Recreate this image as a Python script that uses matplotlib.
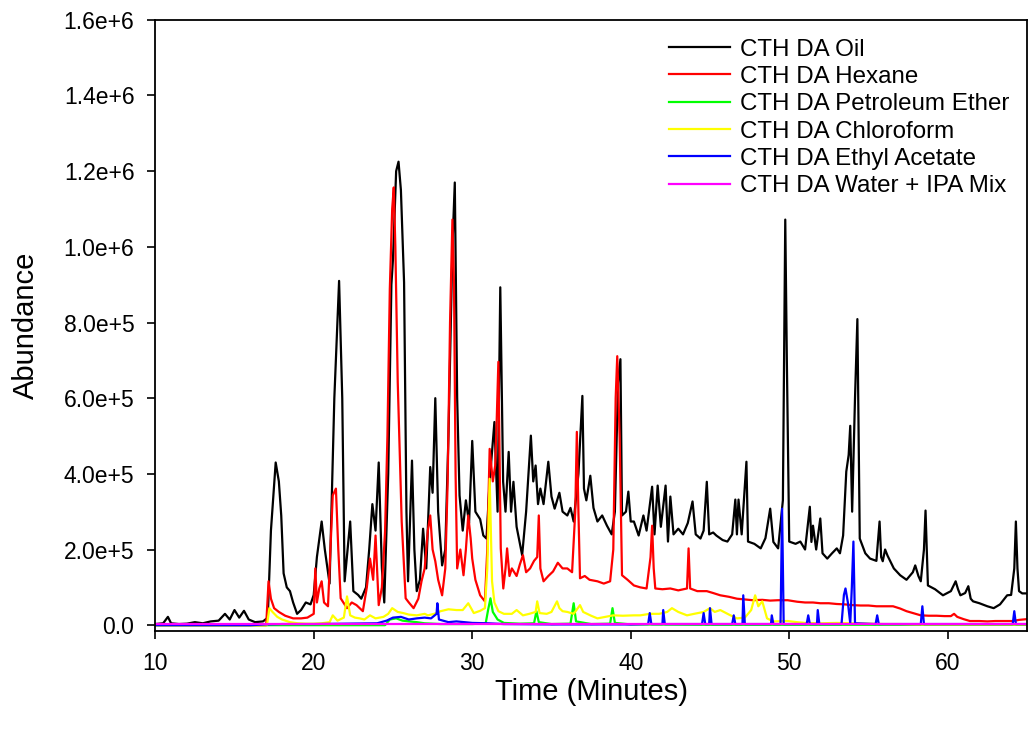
import matplotlib.pyplot as plt
import numpy as np

plt.rcParams['font.family'] = ['Liberation Sans', 'DejaVu Sans']

# abundance values are in thousands
oil_t = [10.0, 10.5, 10.8, 11.0, 11.5, 12.0, 12.5, 13.0, 13.5, 14.0, 14.4, 14.7, 15.0, 15.3, 15.6, 15.9, 16.3, 16.8,
         17.1, 17.3, 17.6, 17.8, 17.95, 18.1, 18.3, 18.5, 18.7, 18.95, 19.2, 19.5, 19.8, 20.0, 20.2, 20.5, 20.7, 21.0,
         21.3, 21.6, 21.8, 21.95, 22.3, 22.5, 22.8, 23.0, 23.3, 23.5, 23.7, 23.9, 24.1, 24.3, 24.45, 24.7, 24.9, 25.0,
         25.2, 25.35, 25.5, 25.7, 25.85, 25.95, 26.2, 26.35, 26.5, 26.7, 26.9, 27.1, 27.35, 27.5, 27.67, 27.85, 28.1,
         28.3, 28.5, 28.75, 28.9, 29.05, 29.2, 29.4, 29.6, 29.8, 30.0, 30.2, 30.5, 30.7, 30.9, 31.1, 31.4, 31.6, 31.77,
         31.95, 32.1, 32.3, 32.45, 32.6, 32.8, 33.15, 33.4, 33.7, 33.85, 34.0, 34.15, 34.3, 34.5, 34.8, 35.0, 35.2,
         35.5, 35.7, 36.0, 36.2, 36.4, 36.7, 36.95, 37.05, 37.2, 37.45, 37.65, 37.9, 38.2, 38.5, 38.8, 39.0, 39.2,
         39.35, 39.45, 39.7, 39.85, 40.0, 40.2, 40.5, 40.8, 41.0, 41.35, 41.5, 41.7, 41.9, 42.2, 42.35, 42.5, 42.7,
         43.0, 43.3, 43.6, 43.9, 44.1, 44.4, 44.6, 44.8, 44.95, 45.2, 45.4, 45.8, 46.1, 46.4, 46.6, 46.7, 46.8, 47.0,
         47.3, 47.4, 47.8, 48.2, 48.5, 48.8, 49.0, 49.3, 49.6, 49.75, 49.85, 50.0, 50.4, 50.7, 51.0, 51.3, 51.4, 51.5,
         51.7, 51.96, 52.1, 52.4, 52.7, 53.0, 53.2, 53.4, 53.6, 53.75, 53.85, 53.97, 54.15, 54.3, 54.45, 54.8, 55.1,
         55.5, 55.7, 55.8, 55.9, 56.05, 56.2, 56.6, 57.0, 57.4, 57.8, 57.95, 58.15, 58.3, 58.5, 58.6, 58.75, 59.2,
         59.7, 60.2, 60.5, 60.65, 60.8, 61.1, 61.3, 61.45, 61.6, 62.0, 62.5, 62.9, 63.3, 63.75, 64.0, 64.2, 64.3,
         64.4, 64.5, 64.7, 65.0]
oil_y = [3, 5, 22, 5, 3, 4, 8, 5, 10, 12, 30, 15, 40, 20, 38, 15, 8, 10,
         20, 250, 430, 380, 290, 137, 100, 90, 60, 30, 40, 60, 55, 80, 180, 274, 200, 110,
         600, 910, 600, 116, 274, 90, 80, 70, 100, 200, 320, 250, 430, 150, 60, 400, 900, 967,
         1200, 1225, 1150, 906, 300, 116, 435, 200, 90, 120, 255, 150, 418, 350, 600, 300, 158,
         200, 500, 1000, 1170, 600, 343, 250, 330, 270, 487, 300, 280, 237, 229, 380, 537, 300, 893,
         379, 300, 458, 300, 379, 260, 185, 300, 501, 380, 422, 320, 361, 320, 432, 340, 308,
         350, 300, 290, 310, 274, 400, 606, 361, 330, 395, 310, 274, 290, 263, 240, 300, 640,
         703, 290, 300, 353, 274, 274, 237, 290, 250, 366, 240, 369, 260, 369, 221, 340, 240,
         255, 240, 270, 327, 240, 229, 250, 379, 240, 245, 237, 225, 221, 240, 332, 240, 332, 240,
         432, 221, 215, 203, 230, 308, 220, 203, 330, 1072, 700, 221, 215, 221, 200, 313, 220, 263,
         200, 282, 190, 176, 190, 203, 190, 237, 406, 450, 527, 300, 600, 809, 229, 190, 176,
         170, 274, 180, 169, 200, 184, 150, 132, 120, 140, 158, 130, 116, 200, 303, 105, 95,
         79, 90, 116, 95, 79, 85, 103, 70, 63, 58, 50, 45, 55, 79, 80, 150, 274,
         150, 90, 84, 84]

hex_t = [10.0, 17.0, 17.15, 17.3, 17.5, 17.8, 18.2, 18.7, 19.2, 19.6, 20.0, 20.1, 20.2, 20.35, 20.5, 20.65, 20.9,
         21.05, 21.2, 21.4, 21.55, 21.7, 22.1, 22.4, 22.7, 23.1, 23.35, 23.55, 23.75, 23.9, 24.1, 24.3, 24.5, 24.65,
         24.8, 24.95, 25.05, 25.15, 25.3, 25.55, 25.8, 26.0, 26.3, 26.6, 26.8, 27.0, 27.2, 27.35, 27.5, 27.67, 27.85,
         28.1, 28.3, 28.45, 28.6, 28.75, 28.85, 28.95, 29.05, 29.25, 29.45, 29.6, 29.75, 29.9, 30.0, 30.2, 30.5, 30.8,
         30.95, 31.1, 31.3, 31.45, 31.55, 31.65, 31.8, 31.96, 32.1, 32.2, 32.35, 32.5, 32.8, 33.0, 33.2, 33.4, 33.65,
         33.9, 34.1, 34.2, 34.3, 34.5, 34.8, 35.1, 35.4, 35.7, 36.0, 36.3, 36.5, 36.6, 36.7, 36.8, 37.1, 37.4, 37.9,
         38.3, 38.7, 38.9, 39.05, 39.15, 39.3, 39.45, 39.8, 40.2, 40.6, 41.0, 41.25, 41.35, 41.45, 41.55, 42.0, 42.5,
         43.0, 43.55, 43.65, 43.75, 44.2, 44.8, 45.2, 45.65, 46.2, 46.7, 47.2, 47.7, 48.3, 48.8, 49.3, 49.9, 50.5,
         51.0, 51.5, 51.96, 52.5, 53.0, 53.5, 54.0, 54.5, 55.0, 55.5, 56.0, 56.55, 57.0, 57.4, 57.8, 58.3, 58.8, 59.3,
         59.8, 60.2, 60.4, 60.6, 61.0, 61.4, 62.0, 62.5, 63.0, 63.5, 64.1, 64.5, 65.0]
hex_y = [0, 0, 116, 70, 45, 35, 25, 18, 18, 20, 30, 150, 60, 97, 116, 60, 50,
         200, 343, 361, 200, 71, 45, 60, 53, 37, 100, 176, 120, 237, 53, 100, 247, 500,
         888, 1100, 1157, 1000, 643, 274, 71, 60, 45, 70, 116, 150, 250, 290, 200, 169, 120,
         79, 150, 379, 800, 1072, 900, 400, 150, 200, 132, 200, 290, 230, 176, 120, 79, 63,
         200, 466, 380, 422, 550, 696, 203, 97, 150, 203, 130, 150, 130, 160, 185, 140, 150,
         170, 180, 290, 150, 116, 130, 142, 165, 150, 150, 140, 300, 511, 300, 124, 130, 120, 116,
         110, 116, 200, 600, 711, 500, 132, 120, 105, 100, 97, 180, 263, 150, 97, 95, 97,
         92, 97, 203, 97, 90, 90, 85, 79, 75, 70, 68, 66, 67, 65, 66, 66, 62,
         60, 60, 58, 58, 56, 55, 53, 52, 52, 50, 50, 50, 44, 37, 32, 26, 25, 25,
         24, 24, 30, 22, 16, 11, 11, 10, 11, 11, 11, 14, 16]

pet_t = [10.0, 24.5, 24.8, 25.2, 25.6, 26.0, 26.5, 27.0, 27.5, 28.0, 29.0, 30.0, 30.85, 31.0, 31.15, 31.3, 31.6,
         32.0, 33.0, 33.9, 34.05, 34.2, 35.0, 36.2, 36.4, 36.55, 37.5, 38.7, 38.85, 39.0, 40.0, 45.0, 50.0, 55.0, 65.0]
pet_y = [0, 0, 15, 18, 12, 10, 8, 5, 4, 3, 3, 3, 5, 40, 71, 35, 15,
         6, 4, 5, 37, 8, 3, 4, 58, 10, 3, 4, 45, 6, 2, 1, 1, 1, 1]

chl_t = [10.0, 17.05, 17.2, 17.4, 17.7, 18.0, 18.5, 19.0, 19.5, 20.0, 20.5, 21.0, 21.2, 21.5, 21.9, 22.1, 22.3,
         22.6, 22.9, 23.2, 23.55, 23.9, 24.4, 24.7, 24.95, 25.3, 25.65, 26.0, 26.5, 27.0, 27.2, 27.6, 28.0, 28.5,
         29.0, 29.4, 29.75, 30.1, 30.5, 30.8, 30.95, 31.1, 31.25, 31.4, 31.65, 32.0, 32.5, 32.8, 33.2, 33.6, 34.0,
         34.1, 34.25, 34.7, 35.0, 35.35, 35.5, 35.7, 36.0, 36.4, 36.8, 37.0, 37.5, 37.9, 38.4, 38.9, 39.5, 40.2,
         40.6, 41.2, 41.8, 42.3, 42.6, 43.0, 43.55, 44.0, 44.6, 45.0, 45.3, 45.65, 46.2, 46.7, 47.2, 47.6, 47.85,
         48.05, 48.3, 48.6, 49.0, 49.9, 50.5, 51.0, 52.0, 53.0, 54.0, 55.0, 56.0, 57.0, 58.0, 60.0, 62.0, 65.0]
chl_y = [0, 0, 45, 35, 22, 15, 8, 5, 4, 4, 5, 8, 26, 12, 20, 76, 26,
         20, 18, 15, 26, 18, 22, 30, 45, 35, 32, 28, 26, 30, 26, 30, 37, 42,
         40, 40, 58, 32, 38, 45, 150, 387, 116, 60, 37, 30, 30, 40, 26, 30, 35,
         63, 32, 30, 35, 63, 45, 37, 35, 30, 53, 35, 25, 18, 22, 26, 25, 26,
         26, 30, 30, 35, 45, 35, 26, 30, 35, 45, 35, 40, 28, 18, 20, 40, 79,
         50, 63, 18, 10, 11, 8, 6, 5, 6, 5, 4, 3, 3, 2, 2, 2, 2]

eth_t = [10.0, 16.0, 17.0, 18.0, 20.0, 22.0, 24.0, 24.6, 25.0, 25.5, 26.0, 26.5, 27.0, 27.4, 27.75, 27.8, 27.9,
         28.5, 29.0, 30.0, 31.0, 32.0, 35.0, 38.0, 40.0, 41.1, 41.2, 41.3, 42.0, 42.05, 42.15, 44.5, 44.6, 44.7,
         44.95, 45.0, 45.1, 46.4, 46.5, 46.6, 47.05, 47.1, 47.2, 48.85, 48.9, 49.0, 49.45, 49.55, 49.65, 51.1,
         51.2, 51.3, 51.75, 51.8, 51.9, 53.3, 53.45, 53.55, 53.7, 53.85, 53.95, 54.05, 54.15, 55.45, 55.55, 55.65,
         58.3, 58.4, 58.5, 64.1, 64.2, 64.3, 65.0]
eth_y = [0, 0, 2, 3, 3, 4, 5, 12, 20, 22, 15, 18, 20, 18, 30, 58, 15,
         8, 10, 6, 5, 3, 2, 2, 2, 3, 32, 3, 3, 40, 3, 3, 32, 3,
         3, 45, 3, 3, 26, 3, 3, 79, 3, 3, 26, 3, 3, 308, 3, 3,
         26, 3, 3, 40, 3, 3, 80, 97, 60, 5, 100, 221, 5, 3, 26, 3,
         3, 50, 3, 3, 37, 3, 3]

wat_t = [10.0, 20.0, 30.0, 40.0, 50.0, 65.0]
wat_y = [2, 2, 2, 2, 2, 2]

labels = ['CTH DA Oil', 'CTH DA Hexane', 'CTH DA Petroleum Ether', 'CTH DA Chloroform',
          'CTH DA Ethyl Acetate', 'CTH DA Water + IPA Mix']
colors = ['black', '#ff0000', '#00ff00', '#ffff00', '#0000ff', '#ff00ff']

yticks = [0, 2e5, 4e5, 6e5, 8e5, 1e6, 1.2e6, 1.4e6, 1.6e6]
yticklabels = ['0.0', '2.0e+5', '4.0e+5', '6.0e+5', '8.0e+5', '1.0e+6', '1.2e+6', '1.4e+6', '1.6e+6']

fig = plt.figure(figsize=(10.28, 7.34), dpi=100)
ax = fig.add_axes([0.151, 0.140, 0.848, 0.833])

series = [(oil_t, oil_y), (hex_t, hex_y), (pet_t, pet_y), (chl_t, chl_y), (eth_t, eth_y), (wat_t, wat_y)]
for (t, y), lab, c in zip(series, labels, colors):
    ax.plot(t, np.array(y) * 1e3, color=c, lw=1.6, label=lab)

ax.set_xlim(10, 65)
ax.set_ylim(-1.6e4, 1.6e6)
ax.set_xticks([10, 20, 30, 40, 50, 60])
ax.set_yticks(yticks)
ax.set_yticklabels(yticklabels)
ax.tick_params(direction='out', length=6, width=1.2, labelsize=16.5)
ax.tick_params(axis='x', pad=9)
ax.tick_params(axis='y', pad=9)
for s in ax.spines.values():
    s.set_linewidth(1.3)

ax.set_xlabel('Time (Minutes)', fontsize=21, labelpad=2)
ax.set_ylabel('Abundance', fontsize=21, labelpad=17)

ax.legend(loc='upper right', frameon=False, fontsize=17.4, handlelength=2.5, labelspacing=0.22,
          handletextpad=0.45, borderaxespad=0.2, bbox_to_anchor=(0.997, 0.993))

fig.savefig('out.png', dpi=100)
